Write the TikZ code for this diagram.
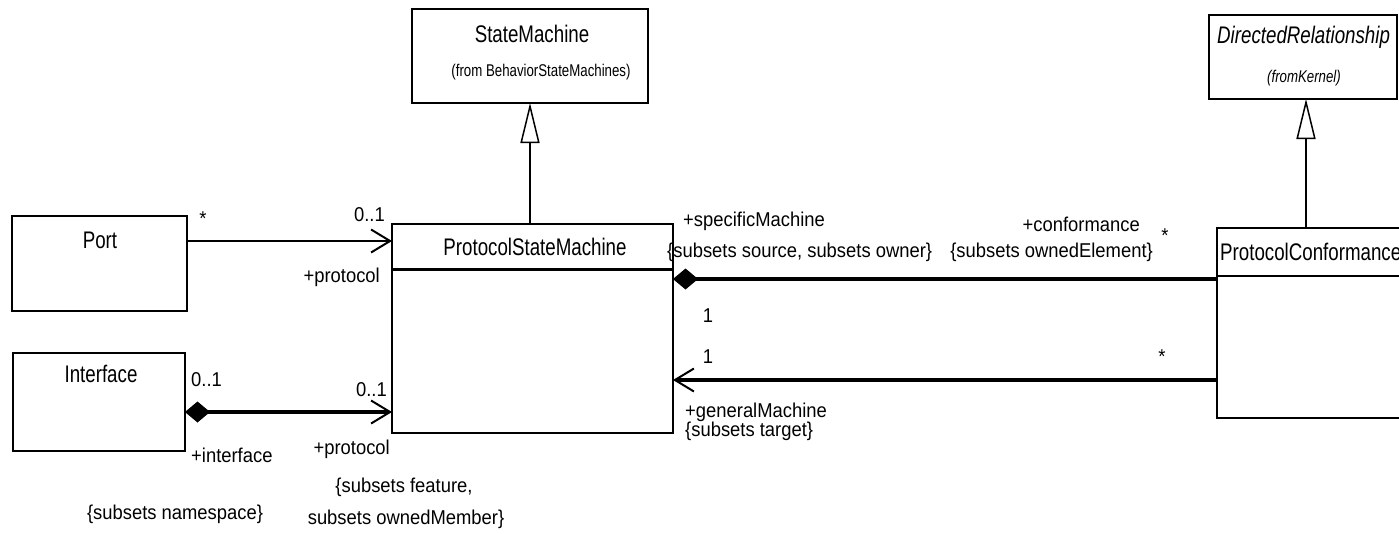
\documentclass[tikz,border=0pt]{standalone}
\usepackage{fontspec}
\setmainfont{Liberation Sans}
\newfontfamily\clsfont{Liberation Sans}[FakeStretch=0.78]
\newfontfamily\lblfont{Liberation Sans}[FakeStretch=0.92]
\usetikzlibrary{arrows.meta}
\tikzset{
  cls/.style={draw, line width=2.5pt, inner sep=0pt, outer sep=0pt, anchor=north west},
  cname/.style={inner sep=0pt, font=\clsfont\fontsize{24}{28}\selectfont},
  cnameit/.style={inner sep=0pt, font=\clsfont\itshape\fontsize{24}{28}\selectfont},
  sub/.style={inner sep=0pt, font=\clsfont\fontsize{17}{20}\selectfont},
  subit/.style={inner sep=0pt, font=\clsfont\itshape\fontsize{17}{20}\selectfont},
  lbl/.style={inner sep=0pt, font=\lblfont\fontsize{20}{24}\selectfont},
  assoc/.style={line width=1.5pt},
  comp/.style={line width=3.5pt},
  gen/.style={line width=1.5pt},
  navtip/.tip={Straight Barb[length=19pt,width=23pt,line width=2pt]},
  comptip/.tip={Diamond[length=25pt,width=21pt,line width=1pt]},
  gentip/.tip={Triangle[open,length=40pt,width=19pt,line width=1.5pt]}
}
\begin{document}
\begin{tikzpicture}[x=1pt,y=-1pt]
\useasboundingbox (0,0) rectangle (1399,533);
\fill[white] (0,0) rectangle (1399,533);
\clip (0,0) rectangle (1399,533);

% class boxes
\node[cls, minimum width=175pt, minimum height=95pt] (port) at (12,216) {};
\node[cls, minimum width=172pt, minimum height=98pt] (iface) at (13,353) {};
\node[cls, minimum width=281pt, minimum height=209pt] (psm) at (392,224) {};
\node[cls, line width=1.5pt, minimum width=236pt, minimum height=94pt] (sm) at (412,9) {};
\node[cls, line width=2pt, minimum width=188pt, minimum height=84pt] (dr) at (1209,15) {};
\node[cls, line width=2pt, minimum width=300pt, minimum height=190pt] (pc) at (1217,228) {};

% compartment separators
\draw[line width=3pt] ([yshift=-45pt]psm.north west) -- ([yshift=-45pt]psm.north east);
\draw[line width=1.5pt] ([yshift=-48pt]pc.north west) -- ([yshift=-48pt]pc.north east);

% class names
\node[cname] (portname) at (100,240) {Port};
\node[cname] (ifacename) at (101,374) {Interface};
\node[cname] (psmname) at (535,247) {ProtocolStateMachine};
\node[cname] (smname) at (532,34) {StateMachine};
\node[sub] (smfrom) at (541,72) {(from BehaviorStateMachines)};
\node[cnameit, anchor=west] (drname) at (1217,37) {DirectedRelationship};
\node[subit] (drfrom) at (1304,78) {(fromKernel)};
\node[cname, anchor=west] (pcname) at (1220,252) {ProtocolConformance};

% generalizations
\coordinate (smfoot) at (sm.south);
\coordinate (drfoot) at ([xshift=3pt]dr.south);
\draw[gen, -gentip] (smfoot |- psm.north) -- (smfoot);
\draw[gen, -gentip] (drfoot |- pc.north) -- (drfoot);

% associations
\draw[assoc, -navtip] ([yshift=-25pt]port.north east) -- ([yshift=-17pt]psm.north west);
\draw[comp, comptip-navtip] ([yshift=-59pt]iface.north east) -- ([yshift=-188pt]psm.north west);
\draw[comp, comptip-] ([yshift=-55pt]psm.north east) -- ([yshift=-51pt]pc.north west);
\draw[comp, -navtip] ([yshift=-152pt]pc.north west) -- ([yshift=-156pt]psm.north east);

% association end labels: Port - ProtocolStateMachine
\node[lbl, anchor=north] (portstar) at (203,212) {*};
\node[lbl, anchor=base east] (portmult) at (385,221) {0..1};
\node[lbl, anchor=base east] (portrole) at (380,282) {+protocol};

% Interface - ProtocolStateMachine
\node[lbl, anchor=base west] (ifmult) at (191,386) {0..1};
\node[lbl, anchor=base east] (ifpmult) at (387,396) {0..1};
\node[lbl, anchor=base west] (ifrole) at (191,462) {+interface};
\node[lbl, anchor=base east] (ifprole) at (390,454) {+protocol};
\node[lbl, anchor=base] (ifcons) at (175,519) {\{subsets namespace\}};
\node[lbl, anchor=base] (ifpcons1) at (404,492) {\{subsets feature,};
\node[lbl, anchor=base] (ifpcons2) at (406,524) {subsets ownedMember\}};

% ProtocolStateMachine - ProtocolConformance
\node[lbl, anchor=base west] (specrole) at (683,226) {+specificMachine};
\node[lbl, anchor=base west] (speccons) at (667,257) {\{subsets source, subsets owner\}};
\node[lbl, anchor=base east] (confrole) at (1140,231) {+conformance};
\node[lbl, anchor=base east] (confcons) at (1153,257) {\{subsets ownedElement\}};
\node[lbl, anchor=north] (confstar) at (1165,229) {*};
\node[lbl, anchor=base] (specmult) at (708,322) {1};
\node[lbl, anchor=base] (genmult) at (708,363) {1};
\node[lbl, anchor=north] (genstar) at (1162,350) {*};
\node[lbl, anchor=base west] (genrole) at (685,417) {+generalMachine};
\node[lbl, anchor=base west] (gencons) at (685,436) {\{subsets target\}};
\end{tikzpicture}
\end{document}
